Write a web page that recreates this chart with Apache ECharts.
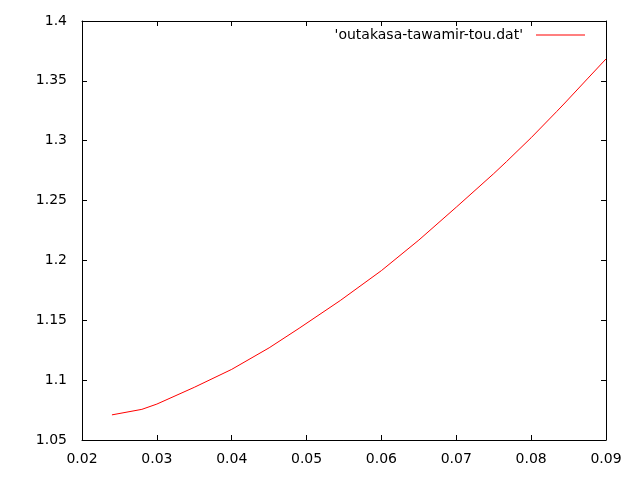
<!DOCTYPE html>
<html><head><meta charset="utf-8">
<script src="https://cdn.jsdelivr.net/npm/echarts@6/dist/echarts.min.js"></script>
<style>html,body{margin:0;padding:0;background:#fff}#c{width:640px;height:480px}</style>
</head><body><div id="c"></div>
<script>
const xValues = [0.024, 0.028, 0.030, 0.035, 0.040, 0.045, 0.049, 0.0545, 0.060, 0.065, 0.070, 0.0725, 0.075, 0.0767, 0.080, 0.0834, 0.0845, 0.0875, 0.090];
const yValues = [1.071, 1.0756, 1.080, 1.094, 1.109, 1.127, 1.1433, 1.1665, 1.1915, 1.217, 1.2445, 1.2585, 1.2725, 1.2825, 1.3025, 1.3243, 1.3315, 1.3516, 1.3683];
const seriesName = "'outakasa-tawamir-tou.dat'";

const font = 'DejaVu Sans';
const chart = echarts.init(document.getElementById('c'), null, {renderer: 'canvas'});
const line = {show: true, lineStyle: {color: '#000', width: 1}};
const tick = {show: true, inside: true, length: 5, lineStyle: {color: '#000', width: 1}};
chart.setOption({
  animation: false,
  backgroundColor: '#fff',
  grid: {left: 82, right: 34, top: 21, bottom: 40, containLabel: false},
  legend: {
    show: true, right: 55, top: 28, align: 'right', padding: 0,
    itemWidth: 49, itemHeight: 1, itemGap: 0,
    icon: 'rect',
    textStyle: {fontFamily: font, fontSize: 14, color: '#000', padding: [0, 8, 0, 0]},
    data: [{name: seriesName, icon: 'rect'}]
  },
  xAxis: [
    {type: 'value', min: 0.02, max: 0.09, interval: 0.01, position: 'bottom',
     axisLine: line, axisTick: tick, splitLine: {show: false},
     axisLabel: {fontFamily: font, fontSize: 14, color: '#000', margin: 12}},
    {type: 'value', min: 0.02, max: 0.09, interval: 0.01, position: 'top',
     axisLine: line, axisTick: tick, splitLine: {show: false}, axisLabel: {show: false}}
  ],
  yAxis: [
    {type: 'value', min: 1.05, max: 1.4, interval: 0.05, position: 'left',
     axisLine: line, axisTick: tick, splitLine: {show: false},
     axisLabel: {fontFamily: font, fontSize: 14, color: '#000', margin: 15}},
    {type: 'value', min: 1.05, max: 1.4, interval: 0.05, position: 'right',
     axisLine: line, axisTick: tick, splitLine: {show: false}, axisLabel: {show: false}}
  ],
  series: [{
    name: seriesName, type: 'line', xAxisIndex: 0, yAxisIndex: 0,
    showSymbol: false, symbol: 'none',
    lineStyle: {color: '#ff0000', width: 1}, itemStyle: {color: '#ff0000'},
    data: xValues.map((x, i) => [x, yValues[i]])
  }]
});
</script></body></html>
